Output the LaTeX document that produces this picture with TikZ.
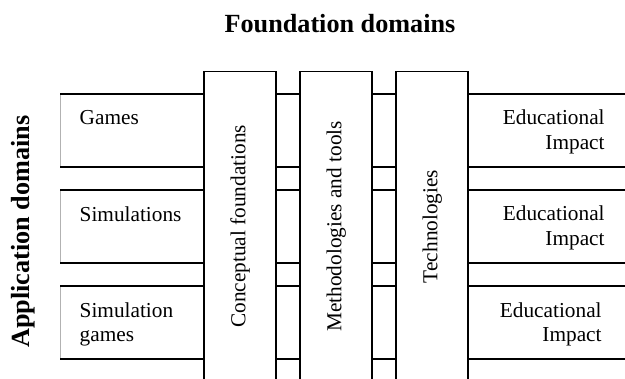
\documentclass[tikz,border=0pt]{standalone}
\usepackage{fontspec}
\setmainfont{Liberation Serif}
\usetikzlibrary{calc, positioning}

\begin{document}
\begin{tikzpicture}[
  x=0.5pt, y=-0.5pt,
  approw/.style={
    draw=gray!60,
    line width=0.4pt,
    rectangle,
    anchor=north west,
    minimum width=290pt,
    minimum height=36pt
    },
  rowline/.style={line width=0.9pt},
  foundcol/.style={
    draw,
    fill=white,
    line width=0.9pt,
    rectangle,
    anchor=north west,
    minimum width=36pt,
    minimum height=165pt
    },
  txt/.style={inner sep=0pt, font=\fontsize{10.65pt}{12.15pt}\selectfont},
  title/.style={inner sep=0pt, font=\fontsize{13.1pt}{15pt}\selectfont\bfseries}
]

\useasboundingbox (0,0) rectangle (625,379);
\clip (0,0) rectangle (625,379);

% Application rows
\node[approw] (gamesrow) at (60,94) {};
\node[approw] (simrow) at (60,190) {};
\node[approw] (simgamesrow) at (60,286) {};

\draw[rowline] (gamesrow.north west) -- (gamesrow.north east);
\draw[rowline] (gamesrow.south west) -- (gamesrow.south east);
\draw[rowline] (simrow.north west) -- (simrow.north east);
\draw[rowline] (simrow.south west) -- (simrow.south east);
\draw[rowline] (simgamesrow.north west) -- (simgamesrow.north east);
\draw[rowline] (simgamesrow.south west) -- (simgamesrow.south east);

\node[txt, anchor=base west] (games) at (79.3,125) {Games};
\node[txt, anchor=base west] (sims) at (79.3,221) {Simulations};
\node[txt, anchor=base west, align=left] (simgames) at (79.3,341.3)
  {Simulation\\games};

\node[txt, anchor=base east, align=right] (impact1) at (605,149.3)
  {Educational\\Impact};
\node[txt, anchor=base east, align=right] (impact2) at (605,245.3)
  {Educational\\Impact};
\node[txt, anchor=base east, align=right] (impact3) at (602,341.3)
  {Educational\\Impact};

% Foundation columns
\node[foundcol] (conccol) at (203.3,70.7) {};
\node[foundcol] (methcol) at (299.3,70.7) {};
\node[foundcol] (techcol) at (395.3,70.7) {};

\coordinate (rowsmid) at ($(gamesrow.north)!0.5!(simgamesrow.south)$);

\node[txt, rotate=90] (conc) at (conccol |- rowsmid) {Conceptual foundations};
\node[txt, rotate=90] (meth) at (methcol |- rowsmid) {Methodologies and tools};
\node[txt, rotate=90] (tech) at (techcol |- rowsmid) {Technologies};

% Titles
\node[title, anchor=base] (found) at (340,33) {Foundation domains};
\node[title, anchor=base, rotate=90] (app) at (29.3,231.7) {Application domains};

\end{tikzpicture}
\end{document}
